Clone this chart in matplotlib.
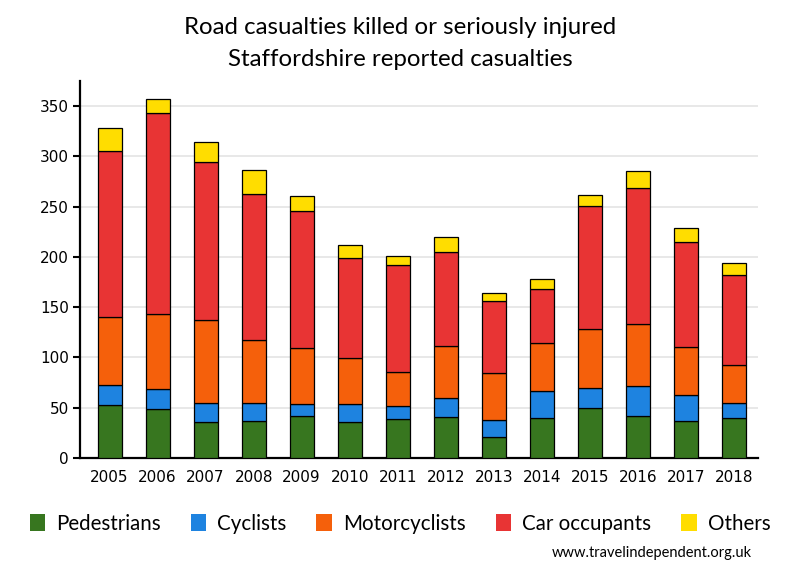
import matplotlib
matplotlib.use('Agg')
import matplotlib.pyplot as plt
from matplotlib.patches import Patch
import numpy as np

# values
years = ['2005', '2006', '2007', '2008', '2009', '2010', '2011',
         '2012', '2013', '2014', '2015', '2016', '2017', '2018']
pedestrians = [53, 49, 36, 37, 42, 36, 39, 41, 21, 40, 50, 42, 37, 40]
cyclists = [20, 20, 19, 18, 12, 18, 13, 19, 17, 27, 20, 30, 26, 15]
motorcyclists = [67, 74, 82, 62, 55, 45, 34, 51, 47, 47, 58, 61, 47, 38]
car_occupants = [165, 200, 157, 146, 137, 100, 106, 94, 71, 54, 123, 136, 105, 89]
others = [23, 14, 20, 23, 15, 13, 9, 15, 8, 10, 11, 16, 14, 12]

series = [('Pedestrians', pedestrians, '#37761f'),
          ('Cyclists', cyclists, '#1e83e0'),
          ('Motorcyclists', motorcyclists, '#f5600b'),
          ('Car occupants', car_occupants, '#e83434'),
          ('Others', others, '#ffdd00')]

fig = plt.figure(figsize=(8, 5.8), dpi=100)
ax = fig.add_axes([80/800, 1-458/580, 678/800, 377/580])

x = np.arange(len(years))
bottom = np.zeros(len(years))
for name, vals, col in series:
    ax.bar(x, vals, 0.5, bottom=bottom, color=col, edgecolor='black',
           linewidth=0.9, zorder=3)
    bottom += np.array(vals)

ax.set_xlim(-0.615, 13.5)
ax.set_ylim(0, 375)
ax.set_xticks(x)
ax.set_xticklabels(years)
ax.set_yticks(range(0, 351, 50))
ax.yaxis.grid(True, color='#e6e6e6', linewidth=1.3, zorder=0)
ax.set_axisbelow(True)
ax.tick_params(axis='x', length=0, labelsize=11, pad=9)
ax.tick_params(axis='y', length=5, width=1.5, labelsize=11, pad=3)
for s in ['top', 'right']:
    ax.spines[s].set_visible(False)
for s in ['left', 'bottom']:
    ax.spines[s].set_linewidth(1.6)

fig.text(0.5, 1-28/580, 'Road casualties killed or seriously injured',
         ha='center', va='center', fontsize=17.3, family='Lato')
fig.text(0.5, 1-60/580, 'Staffordshire reported casualties',
         ha='center', va='center', fontsize=17.3, family='Lato')

handles = [Patch(facecolor=c, edgecolor='none') for _, _, c in series]
labels = [n for n, _, _ in series]
fig.legend(handles, labels, loc='center', bbox_to_anchor=(0.5, 1-524/580),
           ncol=5, frameon=False, handlelength=0.75, handleheight=0.9,
           handletextpad=0.55, columnspacing=1.45,
           prop={'family': 'Lato', 'size': 14.8})

fig.text(752/800, 1-553/580, 'www.travelindependent.org.uk', ha='right',
         va='center', fontsize=10.5, family='Lato')

fig.savefig('out.png', dpi=100)
